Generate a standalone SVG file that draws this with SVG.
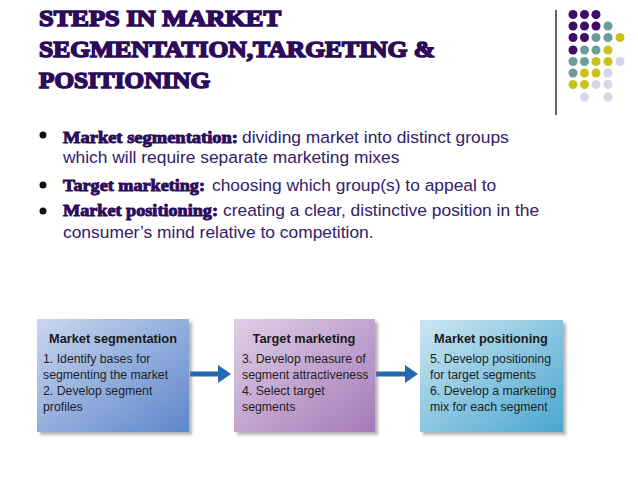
<svg xmlns="http://www.w3.org/2000/svg" width="638" height="479" viewBox="0 0 638 479">
<defs>
<style>
.title{font-family:"Liberation Serif","DejaVu Serif",serif;font-weight:bold;font-size:24px;fill:#2c0b5b;stroke:#2c0b5b;stroke-width:1.6px}
.lab{font-family:"Liberation Serif","DejaVu Serif",serif;font-weight:bold;font-size:17px;fill:#2c0b5b;stroke:#2c0b5b;stroke-width:0.9px}
.body{font-family:"Liberation Sans",Arial,sans-serif;font-size:17.4px;fill:#33206a}
.bt{font-family:"Liberation Sans",Arial,sans-serif;font-weight:bold;font-size:12.8px;fill:#1a1a1a}
.bx{font-family:"Liberation Sans",Arial,sans-serif;font-size:12.3px;fill:#1f1f1f}
.P{fill:#3b0f68}.T{fill:#6b9d9b}.Y{fill:#c9c218}.L{fill:#d6d6ea}
.arrow{fill:#2368b0}
</style>
<linearGradient id="g1" x1="0" y1="0" x2="1" y2="1">
<stop offset="0" stop-color="#c9d6ee"/><stop offset="1" stop-color="#5d86cb"/>
</linearGradient>
<linearGradient id="g2" x1="0" y1="0" x2="1" y2="1">
<stop offset="0" stop-color="#dfcfe6"/><stop offset="1" stop-color="#a47ab9"/>
</linearGradient>
<linearGradient id="g3" x1="0" y1="0" x2="1" y2="1">
<stop offset="0" stop-color="#cbe6f1"/><stop offset="1" stop-color="#4aa6cf"/>
</linearGradient>
<filter id="sh" x="-10%" y="-10%" width="125%" height="125%">
<feDropShadow dx="3" dy="3" stdDeviation="1.8" flood-color="#777" flood-opacity="0.55"/>
</filter>
</defs>
<rect width="638" height="479" fill="#ffffff"/>

<g id="title">
<text class="title" x="39" y="26" textLength="242" lengthAdjust="spacingAndGlyphs">STEPS IN MARKET</text>
<text class="title" x="39" y="57" textLength="396" lengthAdjust="spacingAndGlyphs">SEGMENTATION,TARGETING &amp;</text>
<text class="title" x="39" y="88" textLength="171" lengthAdjust="spacingAndGlyphs">POSITIONING</text>
</g>

<g id="decor">
<line x1="556" y1="10" x2="556" y2="115" stroke="#000" stroke-width="1.2"/>
<circle class="P" cx="573" cy="14.5" r="4.5"/><circle class="P" cx="584.5" cy="14.5" r="4.5"/><circle class="P" cx="596" cy="14.5" r="4.5"/>
<circle class="P" cx="573" cy="26" r="4.5"/><circle class="P" cx="584.5" cy="26" r="4.5"/><circle class="P" cx="596" cy="26" r="4.5"/><circle class="T" cx="608" cy="26" r="4.5"/>
<circle class="P" cx="573" cy="37.5" r="4.5"/><circle class="P" cx="584.5" cy="37.5" r="4.5"/><circle class="T" cx="596" cy="37.5" r="4.5"/><circle class="T" cx="608" cy="37.5" r="4.5"/><circle class="Y" cx="620" cy="37.5" r="4.5"/>
<circle class="P" cx="573" cy="50" r="4.5"/><circle class="T" cx="584.5" cy="50" r="4.5"/><circle class="T" cx="596" cy="50" r="4.5"/><circle class="Y" cx="608" cy="50" r="4.5"/>
<circle class="T" cx="573" cy="61.5" r="4.5"/><circle class="T" cx="584.5" cy="61.5" r="4.5"/><circle class="Y" cx="596" cy="61.5" r="4.5"/><circle class="Y" cx="608" cy="61.5" r="4.5"/><circle class="L" cx="620" cy="61.5" r="4.5"/>
<circle class="T" cx="573" cy="73" r="4.5"/><circle class="Y" cx="584.5" cy="73" r="4.5"/><circle class="Y" cx="596" cy="73" r="4.5"/><circle class="L" cx="608" cy="73" r="4.5"/>
<circle class="Y" cx="573" cy="84.5" r="4.5"/><circle class="Y" cx="584.5" cy="84.5" r="4.5"/><circle class="L" cx="596" cy="84.5" r="4.5"/><circle class="L" cx="608" cy="84.5" r="4.5"/>
<circle class="L" cx="584.5" cy="97" r="4.5"/><circle class="L" cx="608" cy="97" r="4.5"/>
</g>

<g id="bullets">
<circle cx="43" cy="135" r="3.5" fill="#111"/>
<circle cx="43" cy="185" r="3.5" fill="#111"/>
<circle cx="43" cy="211" r="3.5" fill="#111"/>
<text class="lab" x="63" y="142.5" textLength="175" lengthAdjust="spacingAndGlyphs">Market segmentation:</text>
<text class="body" x="242" y="142.5">dividing market into distinct groups</text>
<text class="body" x="63" y="162.5">which will require separate marketing mixes</text>
<text class="lab" x="63" y="191" textLength="142" lengthAdjust="spacingAndGlyphs">Target marketing:</text>
<text class="body" x="212" y="191">choosing which group(s) to appeal to</text>
<text class="lab" x="63" y="216" textLength="155" lengthAdjust="spacingAndGlyphs">Market positioning:</text>
<text class="body" x="223" y="216">creating a clear, distinctive position in the</text>
<text class="body" x="63" y="237.5">consumer’s mind relative to competition.</text>
</g>

<g id="connectors">
<path class="arrow" d="M190 371.5 H218 V365 L231 374 L218 383 V376.5 H190 Z"/>
<path class="arrow" d="M376 371.5 H405 V365 L418 374 L405 383 V376.5 H376 Z"/>
</g>

<g id="box-segmentation">
<rect x="37" y="319" width="152" height="113" fill="url(#g1)" filter="url(#sh)"/>
<text class="bt" x="113" y="343" text-anchor="middle">Market segmentation</text>
<text class="bx" x="43" y="363">1. Identify bases for</text>
<text class="bx" x="43" y="379">segmenting the market</text>
<text class="bx" x="43" y="395">2. Develop segment</text>
<text class="bx" x="43" y="411">profiles</text>
</g>

<g id="box-targeting">
<rect x="234" y="319" width="141" height="113" fill="url(#g2)" filter="url(#sh)"/>
<text class="bt" x="304" y="343" text-anchor="middle">Target marketing</text>
<text class="bx" x="242" y="363">3. Develop measure of</text>
<text class="bx" x="242" y="379">segment attractiveness</text>
<text class="bx" x="242" y="395">4. Select target</text>
<text class="bx" x="242" y="411">segments</text>
</g>

<g id="box-positioning">
<rect x="420" y="320" width="143" height="112" fill="url(#g3)" filter="url(#sh)"/>
<text class="bt" x="491" y="343" text-anchor="middle">Market positioning</text>
<text class="bx" x="430" y="363">5. Develop positioning</text>
<text class="bx" x="430" y="379">for target segments</text>
<text class="bx" x="430" y="395">6. Develop a marketing</text>
<text class="bx" x="430" y="411">mix for each segment</text>
</g>
</svg>
